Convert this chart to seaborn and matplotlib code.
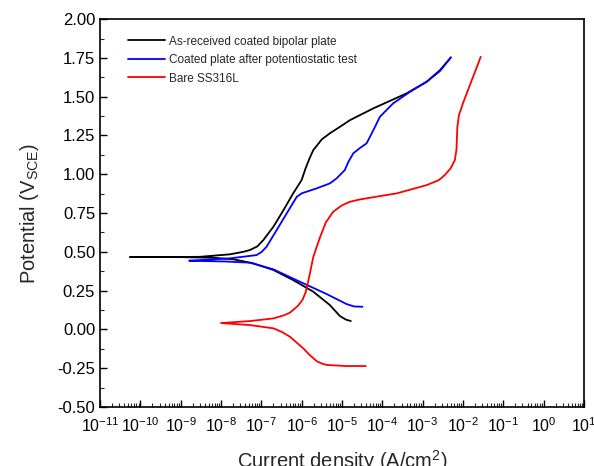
import numpy as np
import pandas as pd
import seaborn as sns
import matplotlib
matplotlib.use("Agg")
import matplotlib.pyplot as plt
from matplotlib.ticker import LogLocator, MultipleLocator, NullFormatter, FuncFormatter

# ---- data (log10 current density, potential V_SCE) ----
series_names = ["As-received coated bipolar plate",
                "Coated plate after potentiostatic test",
                "Bare SS316L"]
series_colors = ["black", "blue", "red"]

# As-received: cathodic branch (from far end to tip), then anodic branch
black_cat_logi = [-4.78, -4.90, -5.05, -5.30, -5.71, -6.21, -6.70, -7.20, -7.69, -8.2, -9.0, -10.26]
black_cat_E    = [0.054, 0.063, 0.086, 0.157, 0.243, 0.318, 0.383, 0.426, 0.452, 0.462, 0.466, 0.467]
black_an_logi  = [-10.26, -9.0, -8.52, -7.78, -7.45, -7.28, -7.10, -6.95, -6.70, -6.45, -6.21,
                  -6.00, -5.90, -5.80, -5.71, -5.50, -5.30, -5.05, -4.80, -4.22, -3.40, -2.90, -2.57, -2.30]
black_an_E     = [0.467, 0.467, 0.468, 0.484, 0.500, 0.512, 0.535, 0.576, 0.662, 0.769, 0.877,
                  0.963, 1.040, 1.105, 1.156, 1.225, 1.264, 1.306, 1.349, 1.425, 1.521, 1.596, 1.671, 1.753]

# After potentiostatic test
blue_cat_logi = [-4.49, -4.70, -4.89, -5.38, -6.04, -6.70, -7.28, -7.9, -8.52, -8.79]
blue_cat_E    = [0.146, 0.148, 0.164, 0.228, 0.307, 0.387, 0.430, 0.438, 0.441, 0.443]
blue_an_logi  = [-8.79, -8.52, -7.78, -7.12, -6.99, -6.87, -6.62, -6.37, -6.12, -6.00, -5.63,
                 -5.30, -5.13, -4.93, -4.84, -4.72, -4.55, -4.39, -4.22, -4.06, -3.73,
                 -3.31, -2.90, -2.57, -2.30]
blue_an_E     = [0.443, 0.447, 0.458, 0.479, 0.500, 0.533, 0.640, 0.748, 0.855, 0.877, 0.909,
                 0.941, 0.974, 1.027, 1.080, 1.135, 1.170, 1.199, 1.285, 1.370, 1.457,
                 1.532, 1.596, 1.665, 1.753]

# Bare SS316L
red_cat_logi = [-4.41, -4.89, -5.38, -5.50, -5.63, -5.80, -5.96, -6.29, -6.50, -6.70, -7.28, -8.00]
red_cat_E    = [-0.236, -0.236, -0.229, -0.220, -0.204, -0.165, -0.122, -0.047, -0.015, 0.007, 0.028, 0.041]
red_an_logi  = [-8.00, -7.28, -6.70, -6.45, -6.29, -6.10, -5.98, -5.90, -5.83, -5.71, -5.55,
                -5.40, -5.22, -5.00, -4.80, -4.55, -3.64, -2.90, -2.60, -2.45, -2.30, -2.20,
                -2.16, -2.14, -2.10, -2.00, -1.78, -1.62, -1.56]
red_an_E     = [0.041, 0.054, 0.071, 0.090, 0.108, 0.150, 0.190, 0.240, 0.318, 0.468, 0.590,
                0.690, 0.758, 0.800, 0.823, 0.838, 0.877, 0.930, 0.962, 0.995, 1.040, 1.092,
                1.160, 1.300, 1.380, 1.457, 1.607, 1.715, 1.757]

curves_logi = [black_cat_logi + black_an_logi,
               blue_cat_logi + blue_an_logi,
               red_cat_logi + red_an_logi]
curves_E = [black_cat_E + black_an_E,
            blue_cat_E + blue_an_E,
            red_cat_E + red_an_E]

frames = []
for name, li, e in zip(series_names, curves_logi, curves_E):
    frames.append(pd.DataFrame({"i": np.power(10.0, li), "E": e, "series": name}))
df = pd.concat(frames, ignore_index=True)

# ---- plot ----
sns.set_style("ticks")
plt.rcParams["font.family"] = ["Liberation Sans", "DejaVu Sans"]
plt.rcParams["mathtext.fontset"] = "custom"
plt.rcParams["mathtext.rm"] = "Liberation Sans"
plt.rcParams["mathtext.it"] = "Liberation Sans"
plt.rcParams["mathtext.default"] = "regular"

fig = plt.figure(figsize=(5.94, 4.66), dpi=100)
ax = fig.add_axes([0.1684, 0.1266, 0.8146, 0.8324])

sns.lineplot(data=df, x="i", y="E", hue="series", hue_order=series_names,
             palette=series_colors, sort=False, estimator=None, units="series",
             linewidth=1.3, ax=ax)

ax.set_xscale("log")
ax.set_xlim(1e-11, 1e1)
ax.set_ylim(-0.5, 2.0)
ax.xaxis.set_major_locator(LogLocator(base=10, numticks=20))
ax.xaxis.set_minor_locator(LogLocator(base=10, subs=np.arange(2, 10), numticks=200))
ax.xaxis.set_minor_formatter(NullFormatter())
ax.xaxis.set_major_formatter(FuncFormatter(
    lambda v, p: "10$^{%d}$" % int(round(np.log10(v)))))
ax.yaxis.set_major_locator(MultipleLocator(0.25))
ax.yaxis.set_minor_locator(MultipleLocator(0.125))
ax.yaxis.set_major_formatter(FuncFormatter(lambda v, p: f"{v:.2f}".replace("\u2212", "-")))

ax.tick_params(which="major", direction="in", length=5, width=1,
               top=False, right=False, colors="black")
ax.tick_params(axis="y", which="major", labelsize=12)
ax.tick_params(axis="x", which="major", labelsize=11.5, pad=7)
ax.tick_params(which="minor", direction="in", length=3, width=0.8, top=False, right=False)
for s in ax.spines.values():
    s.set_color("black")
    s.set_linewidth(1.2)
    s.set_visible(True)

ax.set_xlabel("Current density (A/cm$^2$)", fontsize=14.5, labelpad=9)
ax.set_ylabel("Potential (V$_{SCE}$)", fontsize=14.5, labelpad=12)

leg = ax.legend(loc="upper left", frameon=False, fontsize=8.5, handlelength=3.2,
                bbox_to_anchor=(0.035, 0.985), labelspacing=0.55, handletextpad=0.3)

fig.savefig("out.png", dpi=100)
